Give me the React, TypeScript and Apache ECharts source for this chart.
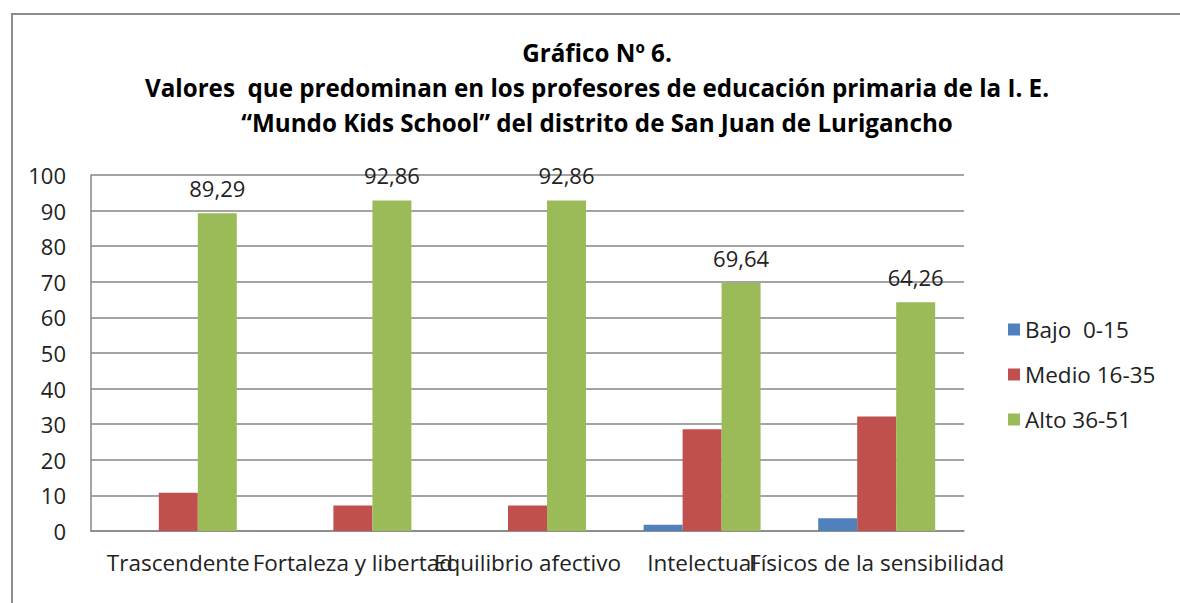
import React, { useEffect, useRef } from "react";
import * as echarts from "echarts";

const categories = ["Trascendente", "Fortaleza y libertad", "Equilibrio afectivo", "Intelectual", "Físicos de la sensibilidad"];
const bajo = [0, 0, 0, 1.79, 3.57];
const medio = [10.71, 7.14, 7.14, 28.57, 32.14];
const alto = [89.29, 92.86, 92.86, 69.64, 64.26];
const seriesNames = ["Bajo  0-15", "Medio 16-35", "Alto 36-51"];
const titleLines = [
  "Gráfico Nº 6.",
  "Valores  que predominan en los profesores de educación primaria de la I. E.",
  "“Mundo Kids School” del distrito de San Juan de Lurigancho",
];

const FONT = "'Open Sans', 'Noto Sans', sans-serif";

export default function App() {
  const ref = useRef<HTMLDivElement>(null);
  useEffect(() => {
    const chart = echarts.init(ref.current!, null, { renderer: "svg" });
    chart.setOption({
      animation: false,
      backgroundColor: "#ffffff",
      textStyle: { fontFamily: FONT },
      title: {
        text: titleLines.join("\n"),
        left: 592,
        textAlign: "center",
        top: 30,
        textStyle: {
          fontFamily: FONT,
          fontWeight: "bold",
          fontSize: 24.2,
          lineHeight: 35,
          color: "#000",
        },
      },
      graphic: [
        {
          type: "rect",
          shape: { x: 12, y: 14, width: 1180, height: 600 },
          style: { fill: "none", stroke: "#8c8c8c", lineWidth: 2 },
          silent: true,
          z: -1,
        },
      ],
      legend: {
        orient: "vertical",
        left: 1003,
        top: 313,
        itemWidth: 12,
        itemHeight: 12,
        itemGap: 22,
        icon: "rect",
        textStyle: { fontFamily: FONT, fontSize: 22.5, color: "#222" },
        data: seriesNames,
      },
      grid: { left: 91, right: 216, top: 175, bottom: 72, containLabel: false },
      xAxis: {
        type: "category",
        data: categories,
        axisLine: { lineStyle: { color: "#868686", width: 1.5 } },
        axisTick: { show: false },
        axisLabel: {
          interval: 0,
          fontFamily: FONT,
          fontSize: 22.5,
          color: "#222",
          margin: 20,
          hideOverlap: false,
        },
      },
      yAxis: {
        type: "value",
        min: 0,
        max: 100,
        interval: 10,
        axisLine: { show: true, lineStyle: { color: "#868686", width: 1.5 } },
        axisTick: { show: false },
        splitLine: { lineStyle: { color: "#868686", width: 1.5 } },
        axisLabel: { fontFamily: FONT, fontSize: 22, color: "#222", margin: 25 },
      },
      series: [
        {
          name: seriesNames[0],
          type: "bar",
          data: bajo,
          itemStyle: { color: "#4F81BD" },
          barGap: "0%",
          barCategoryGap: "33%",
        },
        {
          name: seriesNames[1],
          type: "bar",
          data: medio,
          itemStyle: { color: "#C0504D" },
          barGap: "0%",
          barCategoryGap: "33%",
        },
        {
          name: seriesNames[2],
          type: "bar",
          data: alto,
          itemStyle: { color: "#9BBB59" },
          barGap: "0%",
          barCategoryGap: "33%",
          label: {
            show: true,
            position: "top",
            distance: 14,
            fontFamily: FONT,
            fontSize: 22,
            color: "#222",
            formatter: (p: any) => p.value.toFixed(2).replace(".", ","),
          },
        },
      ],
    });
    return () => chart.dispose();
  }, []);
  return (
    <div
      ref={ref}
      style={{ position: "fixed", left: 0, top: 0, width: 1180, height: 603 }}
    />
  );
}
